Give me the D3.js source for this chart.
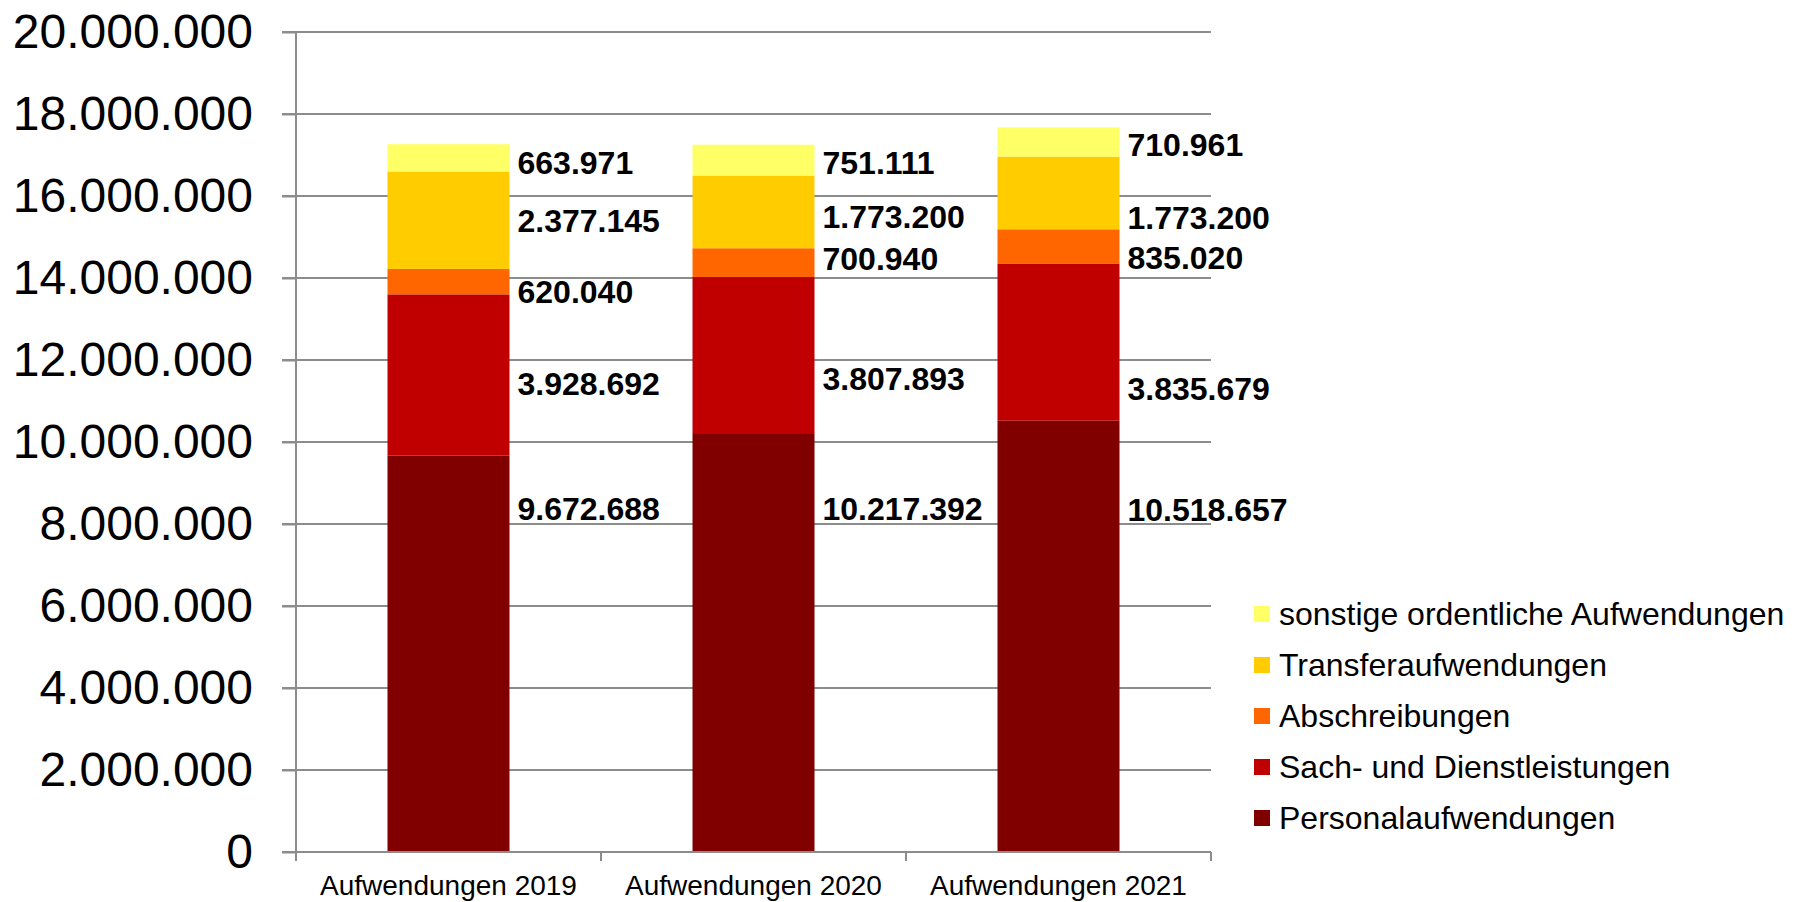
<!DOCTYPE html>
<html>
<head>
<meta charset="utf-8">
<script src="https://cdn.jsdelivr.net/npm/d3@7"></script>
<style>
  html, body { margin: 0; padding: 0; background: #fff; }
  svg { display: block; font-family: "Liberation Sans", Arial, sans-serif; }
</style>
</head>
<body>
<div id="chart"></div>
<script>
// Data
const years = ["Aufwendungen 2019", "Aufwendungen 2020", "Aufwendungen 2021"];
const seriesNames = ["Personalaufwendungen", "Sach- und Dienstleistungen", "Abschreibungen", "Transferaufwendungen", "sonstige ordentliche Aufwendungen"];
const personal = [9672688, 10217392, 10518657];
const sach = [3928692, 3807893, 3835679];
const abschreibungen = [620040, 700940, 835020];
const transfer = [2377145, 1773200, 1773200];
const sonstige = [663971, 751111, 710961];
const yTicks = [0, 2000000, 4000000, 6000000, 8000000, 10000000, 12000000, 14000000, 16000000, 18000000, 20000000];
// where each value label sits, in data units (per year: bottom series first)
const labelAnchors = [
    [8370000, 11430000, 13660000, 15400000, 16810000],
    [8370000, 11540000, 14460000, 15490000, 16810000],
    [8340000, 11290000, 14500000, 15460000, 17260000]
];

const colors = ["#800000", "#C00000", "#FF6600", "#FFCC00", "#FFFF66"];

// Dimensions
const W = 1803, H = 902;
const margin = { top: 32, right: 592, bottom: 50, left: 296 };
const width = W - margin.left - margin.right;   // 915
const height = H - margin.top - margin.bottom;  // 820

const svg = d3.select("#chart")
    .append("svg")
    .attr("width", W)
    .attr("height", H)
    .attr("viewBox", `0 0 ${W} ${H}`);

const g = svg.append("g")
    .attr("transform", `translate(${margin.left},${margin.top})`);

// Build table for the stack
const table = years.map((y, i) => ({
    year: y,
    s0: personal[i], s1: sach[i], s2: abschreibungen[i], s3: transfer[i], s4: sonstige[i]
}));
const keys = ["s0", "s1", "s2", "s3", "s4"];
const stacked = d3.stack().keys(keys)(table);

// Scales
const x = d3.scaleBand()
    .domain(years)
    .range([0, width])
    .paddingInner(0.6)
    .paddingOuter(0.3);

const xCat = d3.scaleBand().domain(years).range([0, width]);  // for the category ticks

const y = d3.scaleLinear()
    .domain([0, 20000000])
    .range([height, 0]);

const de = d3.formatLocale({ decimal: ",", thousands: ".", grouping: [3], currency: ["", " €"] });
const fmt = de.format(",d");

const gridColor = "#8c8c8c";

// Gridlines
g.append("g")
    .selectAll("line")
    .data(yTicks.filter(d => d > 0))
    .join("line")
    .attr("x1", -14)
    .attr("x2", width)
    .attr("y1", d => y(d))
    .attr("y2", d => y(d))
    .attr("stroke", gridColor)
    .attr("stroke-width", 2);

// Y axis
const yAxis = d3.axisLeft(y)
    .tickValues(yTicks)
    .tickSize(14)
    .tickPadding(29)
    .tickFormat(fmt);

const yG = g.append("g").call(yAxis);
yG.select(".domain").remove();
yG.selectAll(".tick line").attr("stroke", gridColor).attr("stroke-width", 2);
yG.selectAll(".tick text")
    .attr("fill", "#000")
    .style("font-size", "48px");

// Bars
g.append("g")
    .selectAll("g")
    .data(stacked)
    .join("g")
    .attr("fill", (d, i) => colors[i])
    .selectAll("rect")
    .data(d => d)
    .join("rect")
    .attr("x", d => x(d.data.year))
    .attr("y", d => y(d[1]))
    .attr("width", x.bandwidth())
    .attr("height", d => y(d[0]) - y(d[1]));

// Axis lines (vertical and baseline)
g.append("line")
    .attr("x1", 0).attr("x2", 0)
    .attr("y1", 0).attr("y2", height + 9)
    .attr("stroke", gridColor).attr("stroke-width", 2);

g.append("line")
    .attr("x1", -14).attr("x2", width)
    .attr("y1", height).attr("y2", height)
    .attr("stroke", gridColor).attr("stroke-width", 2);

// Category boundary ticks
const bounds = years.map(d => xCat(d)).concat([xCat.range()[1]]);
g.append("g")
    .selectAll("line")
    .data(bounds)
    .join("line")
    .attr("x1", d => d).attr("x2", d => d)
    .attr("y1", height).attr("y2", height + 9)
    .attr("stroke", gridColor).attr("stroke-width", 2);

// X axis labels
const xAxis = d3.axisBottom(xCat).tickSize(0).tickPadding(23);
const xG = g.append("g")
    .attr("transform", `translate(0,${height})`)
    .call(xAxis);
xG.select(".domain").remove();
xG.selectAll(".tick text")
    .attr("fill", "#000")
    .style("font-size", "28px");

// Value labels
const labels = [];
years.forEach((yr, i) => {
    const vals = [personal[i], sach[i], abschreibungen[i], transfer[i], sonstige[i]];
    vals.forEach((v, j) => labels.push({ year: yr, value: v, anchor: labelAnchors[i][j] }));
});

g.append("g")
    .selectAll("text")
    .data(labels)
    .join("text")
    .attr("x", d => x(d.year) + x.bandwidth() + 8)
    .attr("y", d => y(d.anchor))
    .attr("dy", "0.35em")
    .attr("fill", "#000")
    .style("font-size", "32px")
    .style("font-weight", "bold")
    .text(d => fmt(d.value));

// Legend (top entry is the top series)
const legend = svg.append("g")
    .attr("transform", "translate(1254,614)");

const legendItems = seriesNames.map((n, i) => ({ name: n, color: colors[i] })).reverse();

const item = legend.selectAll("g")
    .data(legendItems)
    .join("g")
    .attr("transform", (d, i) => `translate(0,${i * 51})`);

item.append("rect")
    .attr("x", 0)
    .attr("y", -8)
    .attr("width", 16)
    .attr("height", 16)
    .attr("fill", d => d.color);

item.append("text")
    .attr("x", 25)
    .attr("y", 0)
    .attr("dy", "0.35em")
    .attr("fill", "#000")
    .style("font-size", "32px")
    .text(d => d.name);
</script>
</body>
</html>
